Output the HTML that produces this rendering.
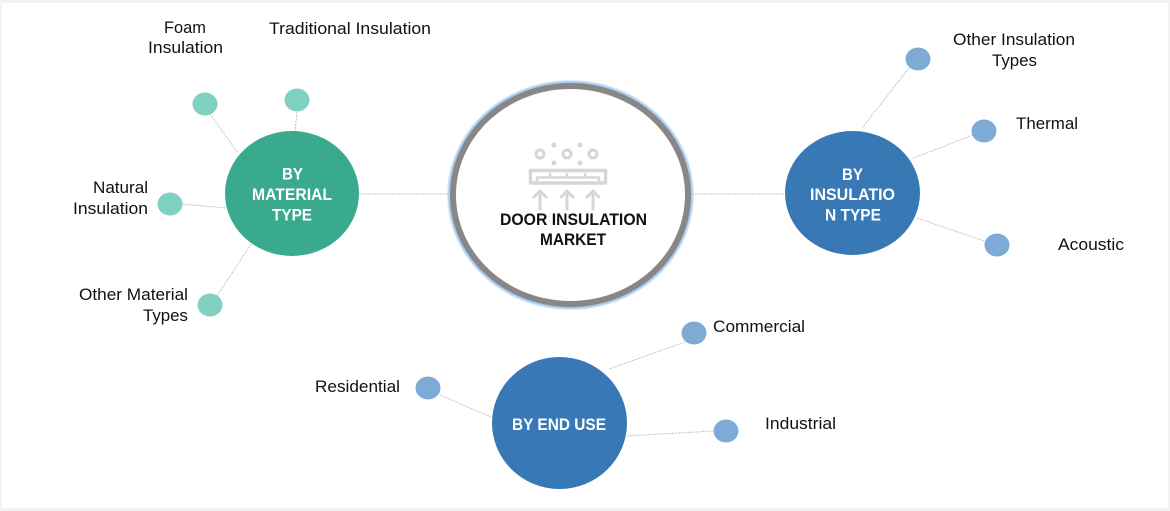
<!DOCTYPE html>
<html>
<head>
<meta charset="utf-8">
<style>
  html, body { margin:0; padding:0; background:#fff; }
  body { width:1170px; height:511px; overflow:hidden; }
  svg { display:block; }
  .lbl { font-family:"Liberation Sans", Arial, sans-serif; font-size:16.5px; fill:#111; }
  .bld { font-family:"Liberation Sans", Arial, sans-serif; font-size:16.5px; font-weight:bold; fill:#fff; }
  .ctr { font-family:"Liberation Sans", Arial, sans-serif; font-size:16.5px; font-weight:bold; fill:#111; }
  .ln { stroke:#c4c4c4; stroke-width:1; fill:none; stroke-dasharray:2 1; }
</style>
</head>
<body>
<svg width="1170" height="511" viewBox="0 0 1170 511" xmlns="http://www.w3.org/2000/svg">
  <defs>
    <filter id="glow" x="-10%" y="-10%" width="120%" height="120%">
      <feGaussianBlur stdDeviation="0.8"/>
    </filter>
  </defs>
  <!-- frame -->
  <rect x="0" y="0" width="1170" height="511" fill="#f2f2f2"/>
  <rect x="2" y="3" width="1166" height="505" fill="#ffffff"/>

  <!-- connectors -->
  <line class="ln" x1="359" y1="194" x2="450" y2="194"/>
  <line class="ln" x1="692" y1="194" x2="786" y2="194"/>

  <line class="ln" x1="210" y1="114" x2="238" y2="153"/>
  <line class="ln" x1="297" y1="112" x2="295" y2="132"/>
  <line class="ln" x1="182" y1="204" x2="226" y2="208"/>
  <line class="ln" x1="217" y1="296" x2="257" y2="235"/>

  <line class="ln" x1="909" y1="68" x2="862" y2="128"/>
  <line class="ln" x1="973" y1="135" x2="911" y2="159"/>
  <line class="ln" x1="917" y1="218" x2="996" y2="245"/>

  <line class="ln" x1="685" y1="342" x2="609" y2="369"/>
  <line class="ln" x1="440" y1="395" x2="493" y2="418"/>
  <line class="ln" x1="713" y1="431" x2="627" y2="436"/>

  <!-- central circle -->
  <ellipse cx="570.5" cy="195" rx="121" ry="112.5" fill="none" stroke="#a3cbf0" stroke-width="3.5" filter="url(#glow)"/>
  <ellipse cx="570.5" cy="195" rx="117.5" ry="109" fill="#ffffff" stroke="#878787" stroke-width="6"/>

  <!-- icon -->
  <g stroke="#d6d6d6" stroke-width="3" fill="none" stroke-linecap="round" stroke-linejoin="round">
    <circle cx="540" cy="154" r="4"/>
    <circle cx="567" cy="154" r="4"/>
    <circle cx="593" cy="154" r="4"/>
    <rect x="530.5" y="170.5" width="75" height="12.5" stroke-width="3.5"/>
    <polyline points="537,181 537,177.5 550,177.5 550,174 550,177.5 567,177.5 567,174 567,177.5 585,177.5 585,174 585,177.5 599,177.5 599,181" stroke-width="2.5"/>
    <line x1="540" y1="191" x2="540" y2="209"/>
    <polyline points="534,197 540,191 546,197"/>
    <line x1="567" y1="191" x2="567" y2="209"/>
    <polyline points="561,197 567,191 573,197"/>
    <line x1="593" y1="191" x2="593" y2="209"/>
    <polyline points="587,197 593,191 599,197"/>
  </g>
  <g fill="#d6d6d6">
    <circle cx="554" cy="145" r="2.5"/>
    <circle cx="554" cy="163" r="2.5"/>
    <circle cx="580" cy="145" r="2.5"/>
    <circle cx="580" cy="163" r="2.5"/>
  </g>
  <text class="ctr" x="573.5" y="225" text-anchor="middle" textLength="147" lengthAdjust="spacingAndGlyphs">DOOR INSULATION</text>
  <text class="ctr" x="573" y="245" text-anchor="middle" textLength="66" lengthAdjust="spacingAndGlyphs">MARKET</text>

  <!-- green material circle -->
  <ellipse cx="292" cy="193.5" rx="67" ry="62.5" fill="#3aaa8f"/>
  <text class="bld" x="292.5" y="179.5" text-anchor="middle" textLength="21" lengthAdjust="spacingAndGlyphs">BY</text>
  <text class="bld" x="292" y="200" text-anchor="middle" textLength="80" lengthAdjust="spacingAndGlyphs">MATERIAL</text>
  <text class="bld" x="292" y="220.5" text-anchor="middle" textLength="40" lengthAdjust="spacingAndGlyphs">TYPE</text>

  <g fill="#80d1bf">
    <ellipse cx="205" cy="104" rx="12.5" ry="11.5"/>
    <ellipse cx="297" cy="100" rx="12.5" ry="11.5"/>
    <ellipse cx="170" cy="204" rx="12.5" ry="11.5"/>
    <ellipse cx="210" cy="305" rx="12.5" ry="11.5"/>
  </g>

  <!-- blue insulation type circle -->
  <ellipse cx="852.5" cy="193" rx="67.5" ry="62" fill="#3878b5"/>
  <text class="bld" x="852.5" y="180" text-anchor="middle" textLength="21" lengthAdjust="spacingAndGlyphs">BY</text>
  <text class="bld" x="852.5" y="200" text-anchor="middle" textLength="85" lengthAdjust="spacingAndGlyphs">INSULATIO</text>
  <text class="bld" x="853" y="220.5" text-anchor="middle" textLength="56" lengthAdjust="spacingAndGlyphs">N TYPE</text>

  <!-- blue end use circle -->
  <ellipse cx="559.5" cy="423" rx="67.5" ry="66" fill="#3878b5"/>
  <text class="bld" x="559" y="430" text-anchor="middle" textLength="94" lengthAdjust="spacingAndGlyphs">BY END USE</text>

  <g fill="#7eabd6">
    <ellipse cx="918" cy="59" rx="12.5" ry="11.5"/>
    <ellipse cx="984" cy="131" rx="12.5" ry="11.5"/>
    <ellipse cx="997" cy="245" rx="12.5" ry="11.5"/>
    <ellipse cx="694" cy="333" rx="12.5" ry="11.5"/>
    <ellipse cx="428" cy="388" rx="12.5" ry="11.5"/>
    <ellipse cx="726" cy="431" rx="12.5" ry="11.5"/>
  </g>

  <!-- labels -->
  <text class="lbl" x="185" y="33" text-anchor="middle" textLength="42" lengthAdjust="spacingAndGlyphs">Foam</text>
  <text class="lbl" x="185.5" y="53" text-anchor="middle" textLength="75" lengthAdjust="spacingAndGlyphs">Insulation</text>
  <text class="lbl" x="269" y="34" textLength="162" lengthAdjust="spacingAndGlyphs">Traditional Insulation</text>

  <text class="lbl" x="148" y="193" text-anchor="end" textLength="55" lengthAdjust="spacingAndGlyphs">Natural</text>
  <text class="lbl" x="148" y="214" text-anchor="end" textLength="75" lengthAdjust="spacingAndGlyphs">Insulation</text>

  <text class="lbl" x="188" y="300" text-anchor="end" textLength="109" lengthAdjust="spacingAndGlyphs">Other Material</text>
  <text class="lbl" x="188" y="321" text-anchor="end" textLength="45" lengthAdjust="spacingAndGlyphs">Types</text>

  <text class="lbl" x="1014" y="45" text-anchor="middle" textLength="122" lengthAdjust="spacingAndGlyphs">Other Insulation</text>
  <text class="lbl" x="1014.5" y="66" text-anchor="middle" textLength="45" lengthAdjust="spacingAndGlyphs">Types</text>

  <text class="lbl" x="1016" y="129" textLength="62" lengthAdjust="spacingAndGlyphs">Thermal</text>
  <text class="lbl" x="1058" y="250" textLength="66" lengthAdjust="spacingAndGlyphs">Acoustic</text>

  <text class="lbl" x="713" y="332" textLength="92" lengthAdjust="spacingAndGlyphs">Commercial</text>
  <text class="lbl" x="315" y="392" textLength="85" lengthAdjust="spacingAndGlyphs">Residential</text>
  <text class="lbl" x="765" y="429" textLength="71" lengthAdjust="spacingAndGlyphs">Industrial</text>
</svg>
</body>
</html>
